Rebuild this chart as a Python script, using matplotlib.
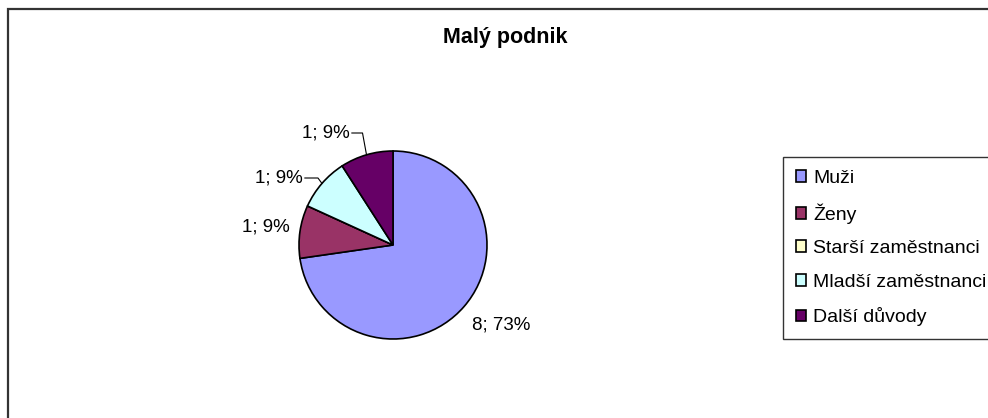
import matplotlib
matplotlib.use("Agg")
import matplotlib.pyplot as plt
from matplotlib.patches import Rectangle
import numpy as np

plt.rcParams['font.family'] = ['Liberation Sans', 'DejaVu Sans']

# data
categories = ["Muži", "Ženy", "Starší zaměstnanci", "Mladší zaměstnanci", "Další důvody"]
counts = [8, 1, 0, 1, 1]
colors = ["#9999FF", "#993366", "#FFFFCC", "#CCFFFF", "#660066"]
title = "Malý podnik"

# pie geometry (pixel units, y up)
cx, cy, r = 393, 173, 94
# label anchor per wedge: (x, y, ha, leader line?)
label_pos = [(472, 93, "left", False),
             (266, 191, "center", False),
             None,
             (279, 240, "center", True),
             (326, 285, "center", True)]

fig = plt.figure(figsize=(9.88, 4.18), dpi=100)
ax = fig.add_axes([0, 0, 1, 1])

wedges, _ = ax.pie(counts, colors=colors, startangle=90, counterclock=False,
                   center=(cx, cy), radius=r,
                   wedgeprops=dict(edgecolor="black", linewidth=1.2))
ax.set_xlim(0, 988)
ax.set_ylim(0, 418)
ax.set_aspect("equal")
ax.axis("off")

total = sum(counts)
for w, v, pos in zip(wedges, counts, label_pos):
    if pos is None or v == 0:
        continue
    x, y, ha, leader = pos
    txt = f"{v}; {round(v / total * 100)}%"
    t = ax.text(x, y, txt, ha=ha, va="center", fontsize=13.5, color="black")
    if leader:
        mid = np.deg2rad((w.theta1 + w.theta2) / 2)
        ex, ey = cx + r * np.cos(mid), cy + r * np.sin(mid)
        fig.canvas.draw()
        bb = t.get_window_extent().transformed(ax.transData.inverted())
        ax.plot([bb.x1 + 2, ex - 4, ex], [y, y, ey], color="black", lw=0.8)

ax.text(505, 381, title, ha="center", va="center", fontsize=15.5, fontweight="bold")

# chart area border
ax.add_patch(Rectangle((8, -10), 1000, 418 - 9 + 10, fill=False,
                       edgecolor="#333333", lw=1.6, clip_on=False))

leg = ax.legend(wedges, categories, loc="upper left",
                bbox_to_anchor=(783 / 988, 261 / 418), borderaxespad=0,
                fontsize=14, frameon=True, fancybox=False, edgecolor="black",
                handlelength=0.55, handleheight=0.55, handletextpad=0.35,
                borderpad=0.65, labelspacing=0.85)
leg.get_frame().set_linewidth(1.0)

fig.savefig("out.png", dpi=100)
